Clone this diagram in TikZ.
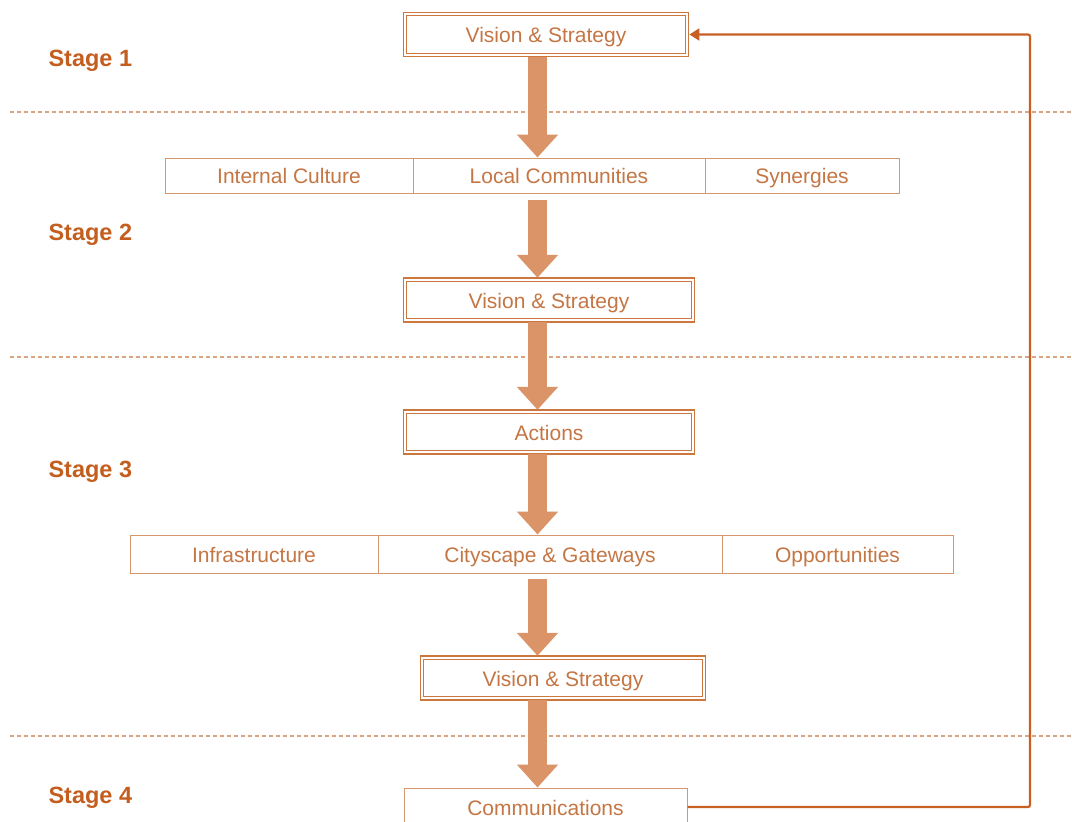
\documentclass[tikz,border=0pt]{standalone}
\usepackage{fontspec}
\setmainfont{Liberation Sans}
\usetikzlibrary{arrows.meta}
\definecolor{boxc}{RGB}{205,118,62}
\definecolor{textc}{RGB}{196,118,68}
\definecolor{cellc}{RGB}{214,150,110}
\definecolor{arrowc}{RGB}{218,148,104}
\definecolor{stagec}{RGB}{196,94,30}
\definecolor{dashc}{RGB}{220,165,130}
\definecolor{loopc}{RGB}{200,96,36}
\tikzset{
  lbl/.style={font=\fontsize{21}{25}\selectfont, text=textc, text height=18pt, text depth=2pt},
  dbox/.style={lbl, draw=boxc, line width=0.8pt, inner sep=0pt,
    minimum width=278.6pt, minimum height=37.6pt,
    append after command={\pgfextra{\draw[draw=boxc, line width=1.8pt]
      ([shift={(-2.8pt,2.8pt)}]\tikzlastnode.north west) rectangle
      ([shift={(2.8pt,-2.8pt)}]\tikzlastnode.south east);}}},
  sbox/.style={lbl, draw=cellc, line width=1pt, inner sep=0pt,
    minimum width=283pt, minimum height=38pt},
  cell/.style={lbl, draw=cellc, line width=1pt, inner sep=0pt, minimum height=35pt},
  stage/.style={anchor=west, font=\fontsize{23.5}{28}\bfseries\selectfont, text=stagec},
  divider/.style={draw=dashc, line width=1.2pt, dash pattern=on 4pt off 3pt},
  flow/.style={draw=arrowc, line width=19pt, -{Triangle[width=40pt,length=23pt]}},
  intod/.style={shorten >=3pt},
  loop/.style={draw=loopc, line width=2.2pt, rounded corners=2pt,
    -{Triangle[width=12pt,length=10pt]}, shorten >=3.7pt},
}
\begin{document}
\begin{tikzpicture}[x=1pt,y=-1pt]
\clip (0,0) rectangle (1072,822);
\fill[white] (0,0) rectangle (1072,822);

% stage dividers
\draw[divider] (10,112) -- (1072,112);
\draw[divider] (10,357) -- (1072,357);
\draw[divider] (10,736) -- (1072,736);

% stage labels
\node[stage] (s1) at (45,61) {Stage 1};
\node[stage] (s2) at (45,235) {Stage 2};
\node[stage] (s3) at (45,472) {Stage 3};
\node[stage] (s4) at (45,798) {Stage 4};

% main column
\node[dbox] (v1) at (546,34.5) {Vision \& Strategy};

\node[cell, minimum width=248pt] (r2a) at (289,175.5) {Internal Culture};
\node[cell, minimum width=292pt] (r2b) at (559,175.5) {Local Communities};
\node[cell, minimum width=194pt] (r2c) at (802,175.5) {Synergies};

\node[dbox, minimum width=284.6pt] (v2) at (549,300) {Vision \& Strategy};
\node[dbox, minimum width=284.6pt] (act) at (549,432) {Actions};

\node[cell, minimum width=248pt, minimum height=38pt] (r3a) at (254,554) {Infrastructure};
\node[cell, minimum width=344pt, minimum height=38pt] (r3b) at (550,554) {Cityscape \& Gateways};
\node[cell, minimum width=231pt, minimum height=38pt] (r3c) at (837.5,554) {Opportunities};

\node[dbox] (v3) at (563,678) {Vision \& Strategy};
\node[sbox] (comm) at (545.5,807) {Communications};

% flow arrows
\coordinate (ax) at (537.5,0);
\coordinate (fx) at (1030,0);
\draw[flow] (v1.south -| ax) ++(0,3) -- (r2b.north -| ax);
\draw[flow, intod] (r2b.south -| ax) ++(0,6) -- (v2.north -| ax);
\draw[flow, intod] (v2.south -| ax) ++(0,3) -- (act.north -| ax);
\draw[flow] (act.south -| ax) ++(0,3) -- (r3b.north -| ax);
\draw[flow, intod] (r3b.south -| ax) ++(0,5) -- (v3.north -| ax);
\draw[flow] (v3.south -| ax) ++(0,3) -- (comm.north -| ax);

% feedback loop
\draw[loop] (comm.east) -| (fx |- v1.east) -- (v1.east);
\end{tikzpicture}
\end{document}
